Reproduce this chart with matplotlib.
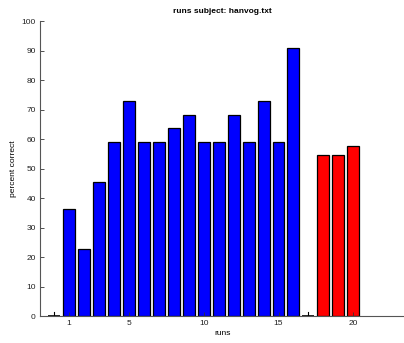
import matplotlib
matplotlib.use("Agg")
import matplotlib.pyplot as plt

plt.rcParams['font.family'] = ['Liberation Sans', 'DejaVu Sans']

blue_runs = list(range(1, 17))
blue_vals = [36.36, 22.73, 45.45, 59.09, 72.73, 59.09, 59.09, 63.64, 68.18,
             59.09, 59.09, 68.18, 59.09, 72.73, 59.09, 90.91]
red_runs = [18, 19, 20]
red_vals = [54.55, 54.55, 57.58]
zero_runs = [0, 17]
xticks = [1, 5, 10, 15, 20]
yticks = list(range(0, 101, 10))

fig = plt.figure(figsize=(4.04, 3.43), dpi=100)
ax = fig.add_axes([0.099, 0.0787, 0.905, 0.86])

ax.bar(blue_runs, blue_vals, width=0.8, color='#0000ff', edgecolor='black', linewidth=0.9)
ax.bar(red_runs, red_vals, width=0.8, color='#ff0000', edgecolor='black', linewidth=0.9)
for z in zero_runs:
    ax.plot([z - 0.4, z + 0.4], [0, 0], color='black', lw=1.2, solid_capstyle='butt')
    ax.plot([z, z], [0, 1.2], color='black', lw=0.8)

ax.set_xlim(-0.95, 23.5)
ax.set_ylim(0, 100)
ax.set_xticks(xticks)
ax.set_yticks(yticks)
ax.tick_params(direction='in', labelsize=6, length=3, width=0.6, colors='#333333', labelcolor='#222222', pad=3)
for s in ['top', 'right']:
    ax.spines[s].set_visible(False)
for s in ['left', 'bottom']:
    ax.spines[s].set_color('#555555')
    ax.spines[s].set_linewidth(0.8)

ax.set_title('runs subject: hanvog.txt', fontsize=6, fontweight='bold', pad=6)
ax.set_xlabel('runs', fontsize=6, labelpad=2)
ax.set_ylabel('percent correct', fontsize=6, labelpad=3)

fig.savefig('out.png', dpi=100)
